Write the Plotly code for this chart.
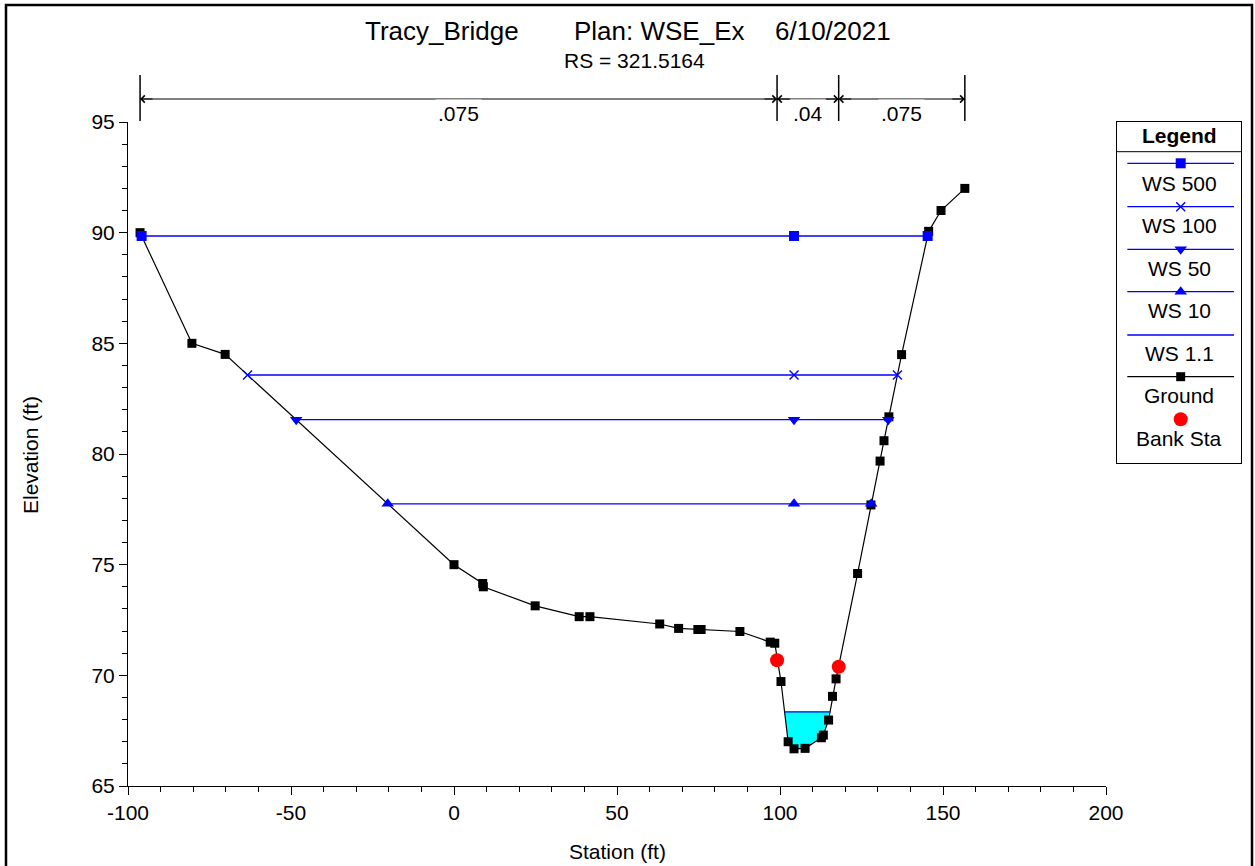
import numpy as np
import plotly.graph_objects as go

# ---------------- data ----------------
ground_sta = [-96.3, -80.4, -70.2, 0.0, 8.8, 9.0, 24.9, 38.4, 41.7, 63.1, 68.9, 74.8, 75.8,
              87.7, 97.0, 98.4, 100.3, 102.5, 104.3, 107.7, 112.7, 113.3, 114.9, 116.1, 117.2,
              123.8, 127.9, 130.7, 131.9, 133.4, 137.3, 145.6, 149.4, 156.7]
ground_elev = [90.0, 85.0, 84.5, 75.0, 74.15, 74.0, 73.14, 72.65, 72.65, 72.32, 72.12, 72.07, 72.07,
               71.98, 71.5, 71.45, 69.72, 67.0, 66.68, 66.7, 67.18, 67.3, 67.98, 69.05, 69.84,
               74.6, 77.7, 79.68, 80.6, 81.68, 84.49, 90.06, 91.0, 92.0]

bank_sta = [99.1, 118.0]
bank_elev = [70.68, 70.39]

ws_names = ["WS 500", "WS 100", "WS 50", "WS 10", "WS 1.1"]
ws_elev = [89.85, 83.57, 81.55, 77.75, 68.35]

n_values = [".075", ".04", ".075"]

x_ticks = [-100, -50, 0, 50, 100, 150, 200]
x_tick_text = ["-100", "-50", "0", "50", "100", "150", "200"]
y_ticks = [65, 70, 75, 80, 85, 90, 95]
y_tick_text = ["65", "70", "75", "80", "85", "90", "95"]

title_parts = ["Tracy_Bridge", "Plan: WSE_Ex", "6/10/2021"]
subtitle = "RS = 321.5164"

# ---------------- helpers ----------------
gs = np.array(ground_sta)
ge = np.array(ground_elev)


def crossings(elev):
    i = 0
    while ge[i + 1] >= elev:
        i += 1
    xl = gs[i] + (ge[i] - elev) / (ge[i] - ge[i + 1]) * (gs[i + 1] - gs[i])
    j = len(gs) - 1
    while ge[j - 1] >= elev:
        j -= 1
    xr = gs[j - 1] + (elev - ge[j - 1]) / (ge[j] - ge[j - 1]) * (gs[j] - gs[j - 1])
    return xl, xr, i + 1, j - 1


thalweg_sta = float(gs[np.argmin(ge)])

FONT = "Arial, Liberation Sans, sans-serif"
BLUE = "#0000ff"
FS = 21

ws_styles = {
    "WS 500": dict(symbol="square", size=10),
    "WS 100": dict(symbol="x-thin", size=9, line=dict(width=1.4, color=BLUE)),
    "WS 50": dict(symbol="triangle-down", size=11),
    "WS 10": dict(symbol="triangle-up", size=11),
    "WS 1.1": None,
}

fig = go.Figure()

# water fill for lowest profile
xl, xr, a, b = crossings(ws_elev[-1])
poly_x = [xl] + list(gs[a:b + 1]) + [xr, xl]
poly_y = [ws_elev[-1]] + list(ge[a:b + 1]) + [ws_elev[-1], ws_elev[-1]]
fig.add_trace(go.Scatter(x=poly_x, y=poly_y, mode="lines", fill="toself",
                         fillcolor="#00ffff", line=dict(width=0), hoverinfo="skip",
                         showlegend=False))

# ground
fig.add_trace(go.Scatter(x=ground_sta, y=ground_elev, mode="lines+markers",
                         line=dict(color="black", width=1.2),
                         marker=dict(symbol="square", size=9, color="black"),
                         name="Ground", showlegend=False))

# water surfaces
for name, el in zip(ws_names, ws_elev):
    xl, xr, _, _ = crossings(el)
    st = ws_styles[name]
    if st is None:
        fig.add_trace(go.Scatter(x=[xl, xr], y=[el, el], mode="lines",
                                 line=dict(color=BLUE, width=1.3), name=name, showlegend=False))
    else:
        mk = dict(color=BLUE)
        mk.update(st)
        fig.add_trace(go.Scatter(x=[xl, thalweg_sta, xr], y=[el, el, el], mode="lines+markers",
                                 line=dict(color=BLUE, width=1.3), marker=mk,
                                 name=name, showlegend=False))

# bank stations
fig.add_trace(go.Scatter(x=bank_sta, y=bank_elev, mode="markers",
                         marker=dict(symbol="circle", size=14, color="red"),
                         name="Bank Sta", showlegend=False))

# ---------------- legend (drawn in an auxiliary axis) ----------------
leg_line_y = [41.3, 84.7, 127.3, 169.7, 213.0, 254.7, 297.3]
leg_text_y = [61.3, 103.0, 146.3, 188.0, 231.3, 273.0, 316.3]
leg_names = ws_names + ["Ground", "Bank Sta"]
for k, name in enumerate(leg_names):
    yl = leg_line_y[k]
    if name == "Bank Sta":
        fig.add_trace(go.Scatter(x=[63.7], y=[yl], mode="markers", xaxis="x2", yaxis="y2",
                                 marker=dict(symbol="circle", size=14, color="red"),
                                 showlegend=False, hoverinfo="skip", cliponaxis=False))
        continue
    col = "black" if name == "Ground" else BLUE
    fig.add_trace(go.Scatter(x=[10.3, 117.0], y=[yl, yl], mode="lines",
                             xaxis="x2", yaxis="y2", line=dict(color=col, width=1.3),
                             showlegend=False, hoverinfo="skip", cliponaxis=False))
    if name == "Ground":
        mk = dict(symbol="square", size=9, color="black")
    else:
        st = ws_styles[name]
        if st is None:
            continue
        mk = dict(color=BLUE)
        mk.update(st)
    fig.add_trace(go.Scatter(x=[63.7], y=[yl], mode="markers", xaxis="x2", yaxis="y2",
                             marker=mk, showlegend=False, hoverinfo="skip", cliponaxis=False))

annotations = []
annotations.append(dict(x=62, y=13, xref="x2", yref="y2", text="<b>Legend</b>", showarrow=False,
                        font=dict(family=FONT, size=FS, color="black")))
for k, name in enumerate(leg_names):
    annotations.append(dict(x=62, y=leg_text_y[k], xref="x2", yref="y2", text=name,
                            showarrow=False, font=dict(family=FONT, size=FS, color="black")))

shapes = [dict(type="line", xref="x2", yref="y2", x0=0, x1=124, y0=29.7, y1=29.7,
               line=dict(color="black", width=1))]

# ---------------- layout geometry ----------------
FIG_W = 1270
PW = 1113.0
PH = 664.0
R_MARGIN = FIG_W - 128 - PW


def px_x(p):
    return (p - 128) / PW


def px_y(p):
    return (786 - p) / PH


title_x = [363, 572, 773]
for t, xp in zip(title_parts, title_x):
    annotations.append(dict(x=px_x(xp), y=px_y(31), xref="paper", yref="paper", text=t,
                            xanchor="left", yanchor="middle", showarrow=False,
                            font=dict(family=FONT, size=26, color="black")))
annotations.append(dict(x=px_x(634), y=px_y(61), xref="paper", yref="paper", text=subtitle,
                        xanchor="center", yanchor="middle", showarrow=False,
                        font=dict(family=FONT, size=FS, color="black")))

annotations.append(dict(x=px_x(617), y=px_y(851), xref="paper", yref="paper",
                        text="Station (ft)", showarrow=False, yanchor="middle",
                        font=dict(family=FONT, size=FS, color="black")))
annotations.append(dict(x=px_x(30), y=px_y(455), xref="paper", yref="paper",
                        text="Elevation (ft)", showarrow=False, textangle=-90,
                        xanchor="center", yanchor="middle",
                        font=dict(family=FONT, size=FS, color="black")))

# ---------------- Manning's n bands ----------------
bounds = [ground_sta[0], bank_sta[0], bank_sta[1], ground_sta[-1]]
yb = px_y(99)
for xb in bounds:
    shapes.append(dict(type="line", xref="x", yref="paper", x0=xb, x1=xb,
                       y0=px_y(121), y1=px_y(75), line=dict(color="black", width=1.5)))
for k, nv in enumerate(n_values):
    x0, x1 = bounds[k], bounds[k + 1]
    shapes.append(dict(type="line", xref="x", yref="paper", x0=x0, x1=x1, y0=yb, y1=yb,
                       line=dict(color="black", width=1)))
    annotations.append(dict(x=x1, y=yb, xref="x", yref="paper", text="", showarrow=True,
                            ax=-14, ay=0, arrowhead=4, arrowsize=1.4, arrowwidth=1,
                            arrowcolor="black"))
    annotations.append(dict(x=x0, y=yb, xref="x", yref="paper", text="", showarrow=True,
                            ax=14, ay=0, arrowhead=4, arrowsize=1.4, arrowwidth=1,
                            arrowcolor="black"))
    annotations.append(dict(x=(x0 + x1) / 2, y=yb, xref="x", yref="paper", text=nv,
                            showarrow=False, bgcolor="white", borderpad=2,
                            font=dict(family=FONT, size=FS, color="black")))

# outer frame
shapes.append(dict(type="rect", xref="paper", yref="paper", x0=px_x(6), x1=px_x(1252),
                   y0=px_y(900), y1=px_y(5), line=dict(color="black", width=2.5)))

fig.update_layout(
    width=FIG_W, height=866, autosize=False,
    margin=dict(l=128, r=R_MARGIN, t=122, b=80),
    paper_bgcolor="white", plot_bgcolor="white",
    showlegend=False,
    font=dict(family=FONT, size=FS, color="black"),
    xaxis=dict(domain=[0, 978 / PW], range=[-100, 200], tickvals=x_ticks, ticktext=x_tick_text,
               ticks="outside", ticklen=8, tickcolor="black", showline=True,
               linecolor="black", linewidth=1, showgrid=False, zeroline=False,
               tickfont=dict(family=FONT, size=FS, color="black"),
               minor=dict(dtick=10, ticks="outside", ticklen=5, tickcolor="black", showgrid=False)),
    yaxis=dict(domain=[0, 1], range=[65, 95], tickvals=y_ticks, ticktext=y_tick_text,
               ticks="outside", ticklen=8, tickcolor="black", showline=True,
               linecolor="black", linewidth=1, showgrid=False, zeroline=False,
               tickfont=dict(family=FONT, size=FS, color="black"),
               minor=dict(dtick=1, ticks="outside", ticklen=5, tickcolor="black", showgrid=False)),
    xaxis2=dict(domain=[(1117 - 128) / PW, 1], range=[0, 124], anchor="y2",
                showline=True, mirror=True, linecolor="black", linewidth=1,
                showticklabels=False, ticks="", showgrid=False, zeroline=False),
    yaxis2=dict(domain=[(786 - 463) / PH, 1], range=[341, 0], anchor="x2",
                showline=True, mirror=True, linecolor="black", linewidth=1,
                showticklabels=False, ticks="", showgrid=False, zeroline=False),
    annotations=annotations,
    shapes=shapes,
)

fig.write_html("out.html", config={"responsive": False})
